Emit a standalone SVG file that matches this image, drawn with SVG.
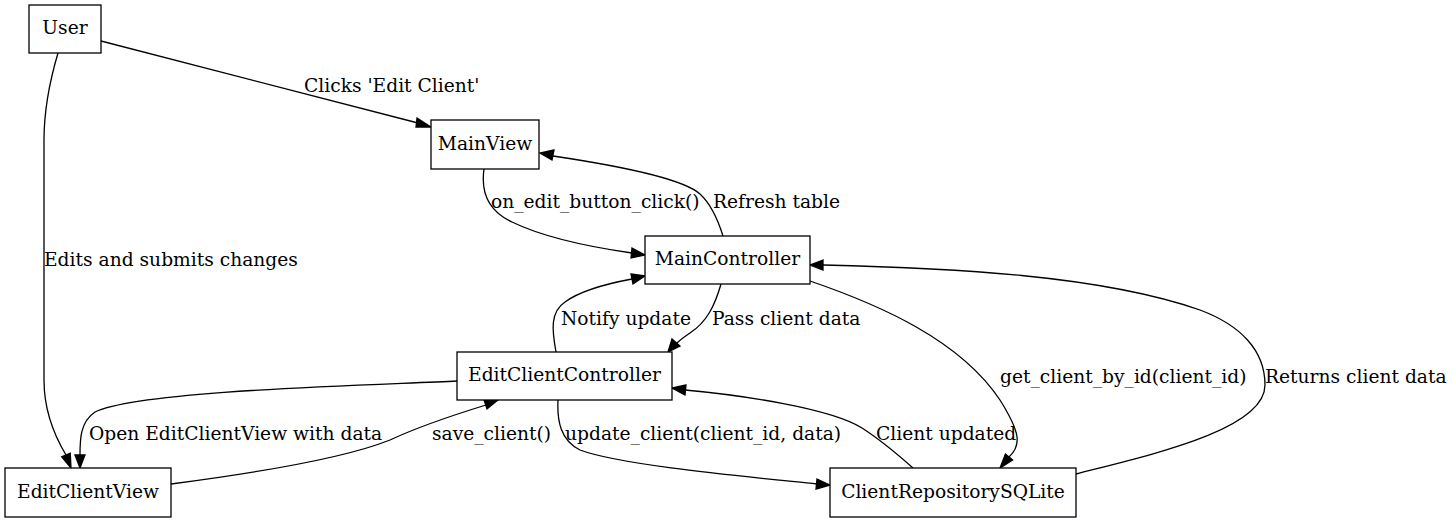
<svg xmlns="http://www.w3.org/2000/svg" width="1455" height="523" viewBox="0 0 1455 523">
<style>
.n rect{fill:#fff;stroke:#000;stroke-width:1.3}
text{font-family:"DejaVu Serif","Liberation Serif",serif;font-size:18.67px;fill:#000}
.n text{text-anchor:middle}
.e path{fill:none;stroke:#000;stroke-width:1.3}
.e polygon{fill:#000;stroke:#000;stroke-width:1.3}
</style>
<rect width="1455" height="523" fill="#fff"/>
<g class="e" id="edges">
<path d="M101,41 L418,123"/><polygon points="417,118 431,127 416,127"/>
<text x="304" y="92">Clicks 'Edit Client'</text>
<path d="M58,53 C50,80 44,110 44,140 L44,380 C44,410 54,435 66,455"/><polygon points="70.3,453.3 71,468 61.7,456.7"/>
<text x="44" y="266">Edits and submits changes</text>
<path d="M484,169 C481,190 486,210 512,222 C545,238 590,247 632,253"/><polygon points="632,248 645,255 631,258"/>
<text x="491" y="208">on_edit_button_click()</text>
<path d="M723,236 C718,220 712,205 700,194 C680,176 600,163 553,156"/><polygon points="554,150 540,153 552,160"/>
<text x="713" y="208">Refresh table</text>
<path d="M721,284 C715,305 707,322 690,333 C684,337 680,340 677,343"/><polygon points="672,339 668,352 680,346"/>
<text x="712" y="325">Pass client data</text>
<path d="M556,352 C552,330 550,312 565,302 C580,291 605,284 632,279"/><polygon points="631,274 645,276 633,284"/>
<text x="561" y="325">Notify update</text>
<path d="M457,381 C380,385 140,390 95,412 C80,422 80,440 80,455"/><polygon points="75,455 80,468 85,455"/>
<text x="89" y="440">Open EditClientView with data</text>
<path d="M171,484 C240,475 340,460 390,440 C420,426 460,413 486,405"/><polygon points="484,400 498,400 487,409"/>
<text x="432" y="440">save_client()</text>
<path d="M558,400 C557,420 560,440 580,450 C620,465 740,476 817,484"/><polygon points="817,479 830,485 816,489"/>
<text x="565" y="440">update_client(client_id, data)</text>
<path d="M913,468 C895,452 876,437 862,428 C830,408 740,395 685,390"/><polygon points="686,385 672,388 685,395"/>
<text x="876" y="440">Client updated</text>
<path d="M810,281 C880,305 960,340 1000,400 C1020,432 1022,445 1009,457"/><polygon points="1012.6,459.9 1000,468 1005.4,454.1"/>
<text x="1000" y="383">get_client_by_id(client_id)</text>
<path d="M1076,474 C1150,455 1265,430 1265,385 C1265,350 1240,325 1200,310 C1100,275 950,268 823,265"/><polygon points="823,260 810,265 823,270"/>
<text x="1265" y="383">Returns client data</text>
</g>
<g class="n" id="User"><rect x="29" y="5" width="72" height="48"/><text x="65" y="34">User</text></g>
<g class="n" id="MainView"><rect x="431" y="120" width="108" height="49"/><text x="485" y="150">MainView</text></g>
<g class="n" id="MainController"><rect x="645" y="236" width="165" height="48"/><text x="727.5" y="265">MainController</text></g>
<g class="n" id="EditClientController"><rect x="457" y="352" width="215" height="48"/><text x="564.5" y="381">EditClientController</text></g>
<g class="n" id="EditClientView"><rect x="5" y="468" width="166" height="49"/><text x="88" y="498">EditClientView</text></g>
<g class="n" id="ClientRepositorySQLite"><rect x="830" y="468" width="246" height="49"/><text x="953" y="498">ClientRepositorySQLite</text></g>
</svg>
